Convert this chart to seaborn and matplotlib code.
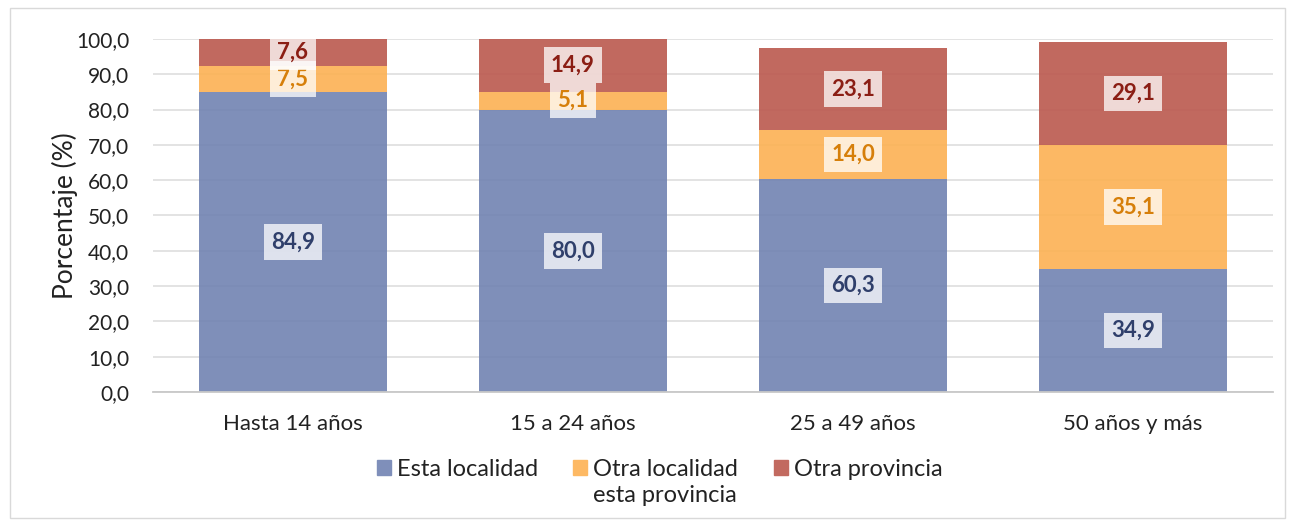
import seaborn as sns
import matplotlib.pyplot as plt
import matplotlib.patches as mpatches
import pandas as pd

# Data
grupos = ["Hasta 14 años", "15 a 24 años", "25 a 49 años", "50 años y más"]
esta_localidad = [84.9, 80.0, 60.3, 34.9]
otra_localidad = [7.5, 5.1, 14.0, 35.1]
otra_provincia = [7.6, 14.9, 23.1, 29.1]
series = ["Esta localidad", "Otra localidad", "Otra provincia"]
segunda_linea = "esta provincia"

# bars are slightly transparent so the gridlines show through
colores = ["#7183B2", "#FCB153", "#BB594E"]
colores_leg = ["#7F8FBA", "#FDB964", "#C26A60"]
colores_txt = ["#2F3F6B", "#D67F0A", "#8B1E14"]

sns.set_style("white")
plt.rcParams['font.family'] = ['Lato', 'DejaVu Sans']

fig = plt.figure(figsize=(12.93, 5.26), dpi=100)
ax = fig.add_axes([0.1183, 0.2548, 0.8662, 0.6711])

valores = [esta_localidad, otra_localidad, otra_provincia]
base = [0.0] * len(grupos)
for serie, vals, col, tcol in zip(series, valores, colores, colores_txt):
    df = pd.DataFrame({"grupo": grupos, "valor": vals})
    sns.barplot(data=df, x="grupo", y="valor", color=col, bottom=base,
                width=0.67, ax=ax, saturation=1, alpha=0.9, linewidth=0)
    cont = ax.containers[-1]
    ax.bar_label(cont, labels=[f"{v:.1f}".replace(".", ",") for v in vals],
                 label_type="center", color=tcol, fontsize=16, fontweight="bold",
                 bbox=dict(boxstyle="square,pad=0.33", fc="white", ec="none", alpha=0.75))
    base = [b + v for b, v in zip(base, vals)]

ax.set_ylim(0, 100)
ax.set_xlim(-0.5, 3.5)
ax.set_yticks(range(0, 101, 10))
ax.set_yticklabels([f"{v},0" for v in range(0, 101, 10)])
ax.yaxis.grid(True, color="#E0E0E0", linewidth=1.3)
ax.set_axisbelow(True)
for s in ["top", "right", "left"]:
    ax.spines[s].set_visible(False)
ax.spines["bottom"].set_color("#C8C8C8")
ax.spines["bottom"].set_linewidth(1.3)
ax.tick_params(axis="y", length=0, labelsize=15, colors="#222222", pad=17)
ax.tick_params(axis="x", length=0, labelsize=16, colors="#222222", pad=16)
ax.set_xlabel("")
ax.set_ylabel("Porcentaje (%)", fontsize=19, color="#222222")
ax.yaxis.set_label_coords(-0.067, 0.5)

handles = [mpatches.Patch(color=c, label=s) for c, s in zip(colores_leg, series)]
leg = fig.legend(handles=handles, loc="center", bbox_to_anchor=(0.51, 0.107),
                 ncol=3, frameon=False, fontsize=17, handlelength=0.6, handleheight=0.6,
                 handletextpad=0.25, columnspacing=1.5, labelcolor="#222222")

# second line of the middle legend entry, left aligned under the first one
fig.canvas.draw()
bb = leg.get_texts()[1].get_window_extent().transformed(fig.transFigure.inverted())
fig.text(bb.x0, bb.y0 - 0.01, segunda_linea, fontsize=17, color="#222222",
         ha="left", va="top")

fig.patches.append(mpatches.Rectangle((10 / 1293, 8 / 526), 1275 / 1293, 510 / 526,
                                      transform=fig.transFigure, fill=False,
                                      edgecolor="#D9D9D9", linewidth=1))

fig.savefig("out.png", dpi=100)
